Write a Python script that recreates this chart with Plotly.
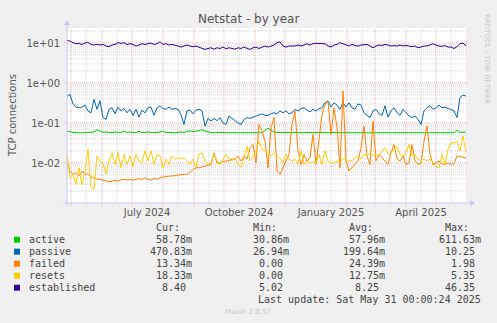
import pandas as pd
import plotly.graph_objects as go

# ---------------- data ----------------
START_DATE = "2024-04-27"
STEP = "3D"

active = [
    0.063, 0.060, 0.058, 0.057, 0.058, 0.057, 0.057, 0.058, 0.057, 0.060,
    0.068, 0.062, 0.058, 0.060, 0.058, 0.057, 0.060, 0.057, 0.058, 0.063,
    0.058, 0.060, 0.057, 0.058, 0.062, 0.057, 0.058, 0.060, 0.058, 0.057,
    0.058, 0.060, 0.062, 0.058, 0.057, 0.058, 0.057, 0.058, 0.060, 0.058,
    0.062, 0.064, 0.060, 0.062, 0.065, 0.068, 0.063, 0.060, 0.058, 0.057,
    0.058, 0.057, 0.058, 0.057, 0.057, 0.058, 0.057, 0.057, 0.058, 0.057,
    0.057, 0.058, 0.057, 0.057, 0.058, 0.057, 0.065,
    0.075, 0.066, 0.060, 0.058, 0.057, 0.057, 0.058, 0.057, 0.057, 0.058,
    0.057, 0.057, 0.057, 0.058, 0.057, 0.057, 0.057, 0.058, 0.057, 0.057,
    0.057, 0.058, 0.057, 0.057, 0.057, 0.057, 0.058, 0.057, 0.057, 0.057,
    0.058, 0.057, 0.057, 0.057, 0.058, 0.057, 0.057, 0.057, 0.058, 0.057,
    0.057, 0.057, 0.057, 0.058, 0.057, 0.057, 0.057, 0.058, 0.057, 0.057,
    0.058, 0.057, 0.057, 0.057, 0.058, 0.057, 0.057, 0.057, 0.058, 0.057,
    0.057, 0.058, 0.057, 0.066, 0.058, 0.059, 0.0588,
]

passive = [
    0.47, 0.52, 0.30, 0.25, 0.24, 0.25, 0.28, 0.20, 0.18, 0.39,
    0.22, 0.36, 0.136, 0.123, 0.22, 0.24, 0.17, 0.25, 0.20, 0.23,
    0.18, 0.22, 0.155, 0.22, 0.14, 0.21, 0.18, 0.24, 0.25, 0.155,
    0.24, 0.27, 0.23, 0.22, 0.25, 0.22, 0.23, 0.22, 0.16, 0.092,
    0.20, 0.21, 0.17, 0.21, 0.22, 0.20, 0.084, 0.13, 0.112, 0.13,
    0.115, 0.136, 0.10, 0.092, 0.15, 0.13, 0.115, 0.10, 0.092, 0.123,
    0.136, 0.13, 0.14, 0.15, 0.155, 0.17, 0.155,
    0.155, 0.17, 0.18, 0.17, 0.20, 0.18, 0.20, 0.17, 0.18, 0.22,
    0.20, 0.23, 0.24, 0.21, 0.19, 0.22, 0.20, 0.23, 0.24, 0.32,
    0.36, 0.25, 0.32, 0.28, 0.22, 0.32, 0.25, 0.32, 0.24, 0.22,
    0.30, 0.28, 0.18, 0.155, 0.136, 0.20, 0.22, 0.17, 0.155, 0.27,
    0.14, 0.20, 0.24, 0.18, 0.155, 0.22, 0.18, 0.15, 0.136, 0.15,
    0.123, 0.092, 0.20, 0.24, 0.27, 0.22, 0.24, 0.28, 0.24, 0.25,
    0.23, 0.22, 0.20, 0.136, 0.43, 0.50, 0.47,
]

failed = [
    0.010, 0.0063, 0.0052, 0.0057, 0.0048, 0.0063, 0.0052, 0.0054, 0.0045, 0.0043,
    0.0039, 0.0039, 0.0037, 0.0035, 0.0034, 0.0035, 0.0037, 0.0035, 0.0038, 0.0039,
    0.0037, 0.0039, 0.0037, 0.0039, 0.0041, 0.0039, 0.0043, 0.0039, 0.0037, 0.0041,
    0.0039, 0.0043, 0.0045, 0.0046, 0.0047, 0.0047, 0.0048, 0.0050, 0.0052, 0.0052,
    0.0052, 0.0057, 0.0069, 0.0076, 0.0076, 0.0079, 0.0082, 0.0088, 0.0092, 0.018,
    0.010, 0.010, 0.011, 0.0112, 0.0115, 0.0125, 0.0125, 0.015, 0.0112, 0.015,
    0.0125, 0.024, 0.029, 0.010, 0.092, 0.063, 0.035,
    0.0076, 0.076, 0.136, 0.0063, 0.0052, 0.0076, 0.0112, 0.0164, 0.092, 0.20,
    0.020, 0.0092, 0.0164, 0.0112, 0.0136, 0.052, 0.0092, 0.043, 0.16, 0.29,
    0.35, 0.052, 0.24, 0.076, 0.0076, 0.63, 0.0112, 0.0063, 0.0076, 0.0092,
    0.0112, 0.024, 0.084, 0.015, 0.0092, 0.112, 0.0112, 0.0164, 0.0136, 0.0112,
    0.0092, 0.018, 0.029, 0.0125, 0.0112, 0.015, 0.0092, 0.010, 0.029, 0.0112,
    0.0092, 0.010, 0.035, 0.084, 0.0164, 0.0092, 0.010, 0.0112, 0.0095, 0.0092,
    0.010, 0.0092, 0.0095, 0.015, 0.0145, 0.0136, 0.0133,
]

resets = [
    0.0164, 0.0043, 0.0052, 0.0029, 0.0076, 0.0029, 0.0063, 0.022, 0.0024, 0.0022,
    0.015, 0.0112, 0.010, 0.0052, 0.0112, 0.018, 0.0092, 0.018, 0.0076, 0.0164,
    0.0092, 0.015, 0.0082, 0.0164, 0.0112, 0.010, 0.020, 0.0112, 0.020, 0.0092,
    0.0164, 0.015, 0.0076, 0.0125, 0.0092, 0.015, 0.0125, 0.0136, 0.0125, 0.0136,
    0.0112, 0.0092, 0.0125, 0.0076, 0.0164, 0.018, 0.0112, 0.0092, 0.010, 0.0164,
    0.0112, 0.0092, 0.0125, 0.0164, 0.0125, 0.0112, 0.0136, 0.0092, 0.0076, 0.015,
    0.026, 0.0112, 0.015, 0.020, 0.035, 0.022, 0.020,
    0.017, 0.015, 0.018, 0.015, 0.013, 0.010, 0.0164, 0.0125, 0.0112, 0.0125,
    0.0092, 0.020, 0.0092, 0.0112, 0.010, 0.0105, 0.010, 0.0164, 0.0092, 0.020,
    0.0112, 0.010, 0.010, 0.0112, 0.010, 0.0125, 0.0125, 0.0112, 0.0115, 0.0136,
    0.015, 0.0125, 0.0164, 0.015, 0.018, 0.015, 0.0164, 0.015, 0.020, 0.024,
    0.0164, 0.018, 0.022, 0.026, 0.0164, 0.015, 0.018, 0.029, 0.015, 0.0164,
    0.0125, 0.0112, 0.0125, 0.0112, 0.0125, 0.010, 0.0082, 0.0076, 0.0164, 0.0092,
    0.022, 0.032, 0.032, 0.035, 0.020, 0.047, 0.0183,
]

established = [
    11.6, 11.2, 10.2, 9.6, 9.8, 9.2, 10.0, 10.3, 9.2, 8.9,
    9.2, 8.9, 9.2, 8.4, 8.1, 8.9, 9.2, 10.2, 9.8, 10.2,
    9.2, 9.6, 9.2, 8.4, 8.9, 9.6, 9.2, 9.8, 10.0, 9.2,
    9.6, 10.7, 9.2, 9.6, 8.9, 9.2, 8.9, 8.4, 7.9, 8.3,
    8.9, 8.4, 8.1, 8.4, 7.9, 7.6, 6.9, 7.3, 7.6, 7.0,
    7.6, 7.3, 7.9, 7.2, 7.6, 7.3, 7.0, 7.6, 7.3, 7.9,
    7.3, 6.9, 7.6, 7.9, 7.3, 7.9, 8.4,
    7.9, 8.4, 8.9, 10.2, 10.7, 8.4, 7.9, 8.4, 8.3, 8.4,
    8.9, 8.4, 8.9, 9.6, 8.9, 9.6, 9.8, 9.8, 9.8, 9.6,
    8.4, 7.9, 8.9, 9.2, 10.2, 9.6, 8.9, 8.4, 9.2, 8.9,
    8.3, 8.9, 8.9, 9.2, 8.4, 7.6, 8.4, 8.9, 8.7, 9.2,
    8.9, 8.4, 8.6, 8.4, 8.9, 8.4, 8.7, 8.3, 8.1, 8.4,
    7.6, 7.9, 8.4, 8.4, 9.2, 9.6, 8.9, 8.4, 8.3, 8.6,
    7.9, 7.9, 7.3, 8.1, 9.6, 10.0, 8.4,
]

series_names = ["active", "passive", "failed", "resets", "established"]
series_colors = ["#00CC00", "#0066B3", "#FF8000", "#FFCC00", "#330099"]
series_values = [active, passive, failed, resets, established]

legend_cur = ["58.78m", "470.83m", "13.34m", "18.33m", "8.40"]
legend_min = ["30.86m", "26.94m", "0.00", "0.00", "5.02"]
legend_avg = ["57.96m", "199.64m", "24.39m", "12.75m", "8.25"]
legend_max = ["611.63m", "10.25", "1.98", "5.35", "46.35"]

y_tick_vals = [0.01, 0.1, 1, 10]
y_tick_text = ["1e-02", "1e-01", "1e+00", "1e+01"]
x_tick_vals = ["2024-07-16", "2024-10-16", "2025-01-16", "2025-04-16"]
x_tick_text = ["July 2024", "October 2024", "January 2025", "April 2025"]

X_RANGE = ["2024-04-27", "2025-06-01"]
Y_LOG_RANGE = [-3, 1.375]

title_text = "Netstat - by year"
y_title = "TCP connections"
last_update = "Last update: Sat May 31 00:00:24 2025"
watermark = "RRDTOOL / TOBI OETIKER"
footer = "Munin 2.0.57"

# ---------------- layout geometry (pixels) ----------------
W, H = 497, 323
ML, MT, PW, PH = 67, 28, 400, 175
MR = W - ML - PW
MB = H - MT - PH


def xp(px):
    return (px - ML) / PW


def yp(py):
    return (MT + PH - py) / PH


dates = pd.date_range(START_DATE, periods=len(established), freq=STEP)

fig = go.Figure()
for name, color, vals in zip(series_names, series_colors, series_values):
    fig.add_trace(go.Scatter(x=dates, y=vals, mode="lines", name=name,
                             line=dict(color=color, width=1),
                             showlegend=False))

shapes = []
RED = "rgba(230,110,110,0.5)"
GREY = "rgba(175,175,175,0.55)"

# vertical grid: month starts (red) and mid-month (grey)
months = pd.date_range("2024-05-01", "2025-06-01", freq="MS")
for m in months:
    shapes.append(dict(type="line", xref="x", yref="paper", x0=m, x1=m,
                       y0=-3 / PH, y1=1, layer="below",
                       line=dict(color=RED, width=1, dash="1px,1px")))
    mid = m + pd.Timedelta(days=15)
    if mid < pd.Timestamp(X_RANGE[1]):
        shapes.append(dict(type="line", xref="x", yref="paper", x0=mid, x1=mid,
                           y0=0, y1=1, layer="below",
                           line=dict(color=GREY, width=1, dash="1px,1px")))

# horizontal grid: decades (red) and 2..9 (grey)
for e in range(-3, 2):
    for k in range(1, 10):
        v = k * 10 ** e
        if v > 10 ** Y_LOG_RANGE[1] or v <= 10 ** Y_LOG_RANGE[0]:
            continue
        if k == 1:
            shapes.append(dict(type="line", xref="paper", yref="y", x0=-3 / PW, x1=1,
                               y0=v, y1=v, layer="below",
                               line=dict(color=RED, width=1, dash="1px,1px")))
        else:
            shapes.append(dict(type="line", xref="paper", yref="y", x0=0, x1=1,
                               y0=v, y1=v, layer="below",
                               line=dict(color=GREY, width=1, dash="1px,1px")))

AXC = "#C8C8F4"
# axis lines with arrows
shapes.append(dict(type="line", xref="paper", yref="paper", x0=xp(63), x1=xp(470),
                   y0=0, y1=0, line=dict(color=AXC, width=1)))
shapes.append(dict(type="line", xref="paper", yref="paper", x0=0, x1=0,
                   y0=yp(206), y1=yp(24), line=dict(color=AXC, width=1)))
shapes.append(dict(type="path", xref="paper", yref="paper",
                   path=f"M {xp(470)},{yp(200)} L {xp(475)},{yp(203)} L {xp(470)},{yp(206)} Z",
                   fillcolor=AXC, line=dict(color=AXC, width=0)))
shapes.append(dict(type="path", xref="paper", yref="paper",
                   path=f"M {xp(64)},{yp(25)} L {xp(67)},{yp(20)} L {xp(70)},{yp(25)} Z",
                   fillcolor=AXC, line=dict(color=AXC, width=0)))

annotations = []
TXT = "#555555"
LEG = "#444444"
annotations.append(dict(x=xp(248), y=yp(19), xref="paper", yref="paper", text=title_text,
                        showarrow=False, xanchor="center", yanchor="middle",
                        font=dict(family="DejaVu Sans", size=12, color=TXT)))
annotations.append(dict(x=xp(12), y=yp(115), xref="paper", yref="paper", text=y_title,
                        textangle=-90, showarrow=False, xanchor="center", yanchor="middle",
                        font=dict(family="DejaVu Sans", size=10, color=TXT)))
annotations.append(dict(x=xp(487.5), y=yp(58.5), xref="paper", yref="paper", text=watermark,
                        textangle=90, showarrow=False, xanchor="center", yanchor="middle",
                        font=dict(family="DejaVu Sans", size=7, color="#C8C8C8")))
annotations.append(dict(x=xp(248), y=yp(312), xref="paper", yref="paper", text=footer,
                        showarrow=False, xanchor="center", yanchor="middle",
                        font=dict(family="DejaVu Sans", size=7, color="#C8C8C8")))

CHW = 6.0
col_right = [193.7, 290.7, 386.7, 482.7]
headers = ["Cur:", "Min:", "Avg:", "Max:"]
row0 = 227.7
ROWH = 12.0
mono = dict(family="DejaVu Sans Mono", size=10, color=LEG)
for hdr, cr in zip(headers, col_right):
    annotations.append(dict(x=xp(cr - 2 * CHW), y=yp(row0), xref="paper", yref="paper",
                            text=hdr, showarrow=False, xanchor="right", yanchor="middle",
                            font=mono))
cols = [legend_cur, legend_min, legend_avg, legend_max]
for i, (name, color) in enumerate(zip(series_names, series_colors)):
    ry = row0 + ROWH * (i + 1)
    shapes.append(dict(type="rect", xref="paper", yref="paper",
                       x0=xp(14), x1=xp(20), y0=yp(ry + 3), y1=yp(ry - 3),
                       fillcolor=color, line=dict(width=0)))
    annotations.append(dict(x=xp(26.7), y=yp(ry), xref="paper", yref="paper", text=name,
                            showarrow=False, xanchor="left", yanchor="middle", font=mono))
    for col, cr in zip(cols, col_right):
        s = col[i]
        right = cr if s.endswith("m") else cr - CHW
        annotations.append(dict(x=xp(right), y=yp(ry), xref="paper", yref="paper", text=s,
                                showarrow=False, xanchor="right", yanchor="middle",
                                font=mono))
annotations.append(dict(x=xp(482.7), y=yp(row0 + ROWH * 6), xref="paper", yref="paper",
                        text=last_update, showarrow=False, xanchor="right",
                        yanchor="middle", font=mono))

fig.update_layout(
    width=W, height=H,
    margin=dict(l=ML, r=MR, t=MT, b=MB, pad=0),
    paper_bgcolor="#F0F0F0", plot_bgcolor="#FFFFFF",
    shapes=shapes, annotations=annotations,
    showlegend=False,
    xaxis=dict(type="date", range=X_RANGE, showgrid=False, zeroline=False,
               showline=False, tickvals=x_tick_vals, ticktext=x_tick_text,
               ticks="", ticklabelstandoff=2,
               tickfont=dict(family="DejaVu Sans", size=10, color=TXT),
               fixedrange=True),
    yaxis=dict(type="log", range=Y_LOG_RANGE, showgrid=False, zeroline=False,
               showline=False, tickvals=y_tick_vals, ticktext=y_tick_text,
               ticks="", ticklabelstandoff=6,
               tickfont=dict(family="DejaVu Sans", size=10, color=TXT),
               fixedrange=True),
)

fig.write_html("out.html", config={"displayModeBar": False})
